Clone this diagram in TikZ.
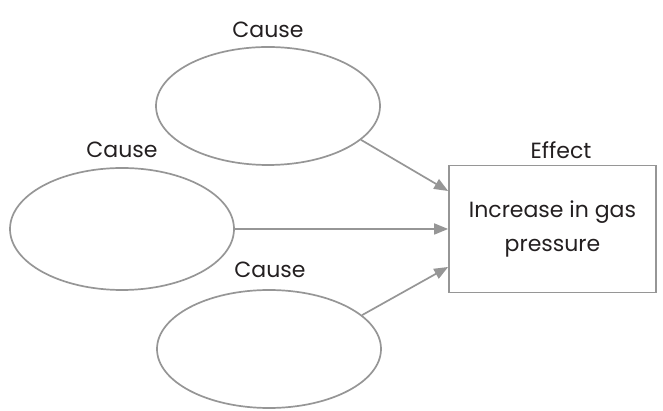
\documentclass[tikz,border=0pt]{standalone}
\usepackage{fontspec}
\setmainfont{Poppins}
\usetikzlibrary{arrows.meta, shapes.geometric}
\definecolor{linegray}{RGB}{150,150,150}
\definecolor{inkgray}{RGB}{35,31,32}
\begin{document}
\begin{tikzpicture}[x=1pt, y=1pt,
    causebox/.style={draw=linegray, line width=1.7pt, ellipse,
                     minimum width=224pt, minimum height=118pt, inner sep=0pt},
    effectbox/.style={draw=linegray, line width=1.7pt, rectangle,
                      minimum width=207pt, minimum height=127pt,
                      align=center, text=inkgray,
                      font=\fontsize{22}{34}\selectfont},
    caption/.style={font=\fontsize{22}{26}\selectfont, text=inkgray,
                    inner sep=0pt},
    link/.style={draw=linegray, line width=1.7pt,
                 -{Triangle[length=14pt, width=11pt]}}]
  \useasboundingbox (0,0) rectangle (663,411);

  % causes and effect
  \node (top)    [causebox] at (268,305) {};
  \node (left)   [causebox, minimum height=122pt] at (122,182) {};
  \node (bottom) [causebox] at (269,62) {};
  \node (effect) [effectbox] at (552.5,182)
                 {Increase in gas\\pressure};

  % captions
  \node (ctop)    [caption] at (268,381) {Cause};
  \node (cleft)   [caption] at (122,261) {Cause};
  \node (cbottom) [caption] at (270,141) {Cause};
  \node (ceffect) [caption] at (561,261) {Effect};

  \draw[link] (top.-20)   -- (effect.160);
  \draw[link] (left)      -- (effect);
  \draw[link] (bottom.20) -- (effect.200);
\end{tikzpicture}
\end{document}
